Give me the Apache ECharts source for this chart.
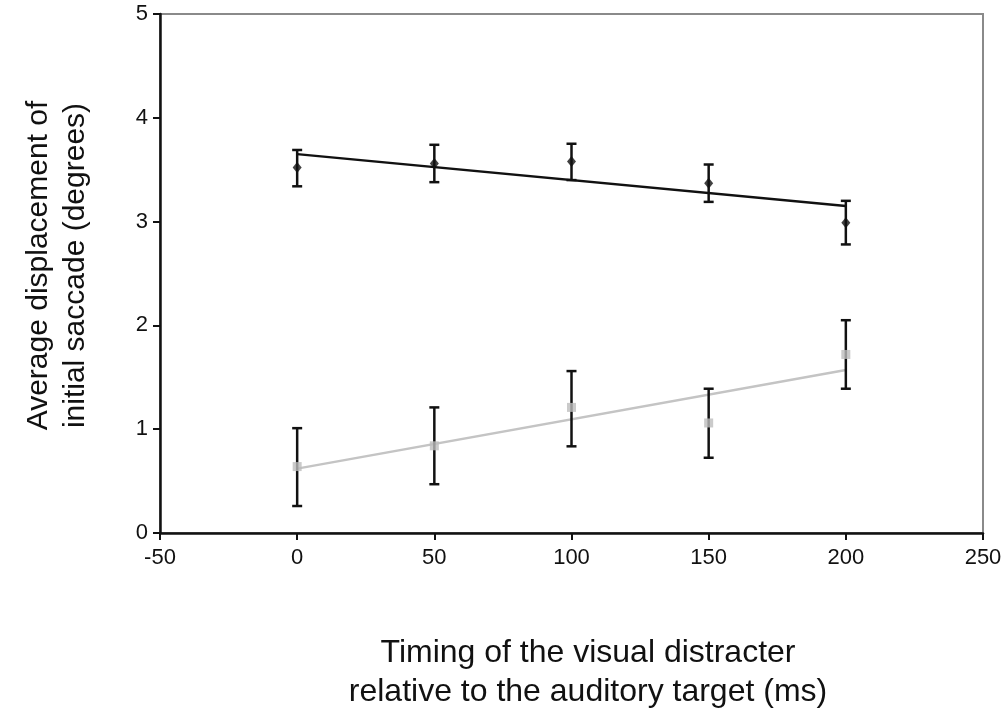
<!DOCTYPE html>
<html>
<head>
<meta charset="utf-8">
<script src="https://cdn.jsdelivr.net/npm/echarts@6/dist/echarts.min.js"></script>
<style>
  html, body { margin: 0; padding: 0; background: #fff; }
  #chart { width: 1008px; height: 717px; }
</style>
</head>
<body>
<div id="chart"></div>
<script>
// timing of the visual distracter (ms)
const timings = [0, 50, 100, 150, 200];

// upper (black) condition: mean, error bar low, error bar high
const upperMean = [3.52, 3.56, 3.58, 3.37, 2.99];
const upperLow = [3.34, 3.38, 3.40, 3.19, 2.78];
const upperHigh = [3.69, 3.74, 3.75, 3.55, 3.20];
const upperFit = [[0, 3.65], [200, 3.15]];

// lower (grey) condition
const lowerMean = [0.64, 0.84, 1.21, 1.06, 1.72];
const lowerLow = [0.26, 0.47, 0.835, 0.725, 1.39];
const lowerHigh = [1.01, 1.21, 1.56, 1.39, 2.05];
const lowerFit = [[0, 0.62], [200, 1.57]];

const xTicks = [-50, 0, 50, 100, 150, 200, 250];
const yTicks = [0, 1, 2, 3, 4, 5];

const font = "Liberation Sans, Arial, sans-serif";

function pairs(xs, ys) {
  return xs.map((x, i) => [x, ys[i]]);
}

function bars(xs, lo, hi) {
  return xs.map((x, i) => [x, lo[i], hi[i]]);
}

function renderErrorBar(params, api) {
  const x = api.value(0);
  const top = api.coord([x, api.value(2)]);
  const bot = api.coord([x, api.value(1)]);
  const cap = 5;
  const style = { stroke: "#111", lineWidth: 2.5 };
  return {
    type: "group",
    children: [
      { type: "line", shape: { x1: top[0], y1: top[1], x2: bot[0], y2: bot[1] }, style },
      { type: "line", shape: { x1: top[0] - cap, y1: top[1], x2: top[0] + cap, y2: top[1] }, style },
      { type: "line", shape: { x1: bot[0] - cap, y1: bot[1], x2: bot[0] + cap, y2: bot[1] }, style }
    ]
  };
}

const chart = echarts.init(document.getElementById("chart"));
chart.setOption({
  animation: false,
  grid: {
    left: 160,
    right: 25,
    top: 14,
    bottom: 182,
    show: true,
    borderColor: "#8a8a8a",
    borderWidth: 2,
    backgroundColor: "#fff"
  },
  xAxis: {
    type: "value",
    min: xTicks[0],
    max: xTicks[xTicks.length - 1],
    interval: 50,
    name: "Timing of the visual distracter\nrelative to the auditory target (ms)",
    nameLocation: "middle",
    nameGap: 101,
    nameTextStyle: {
      fontFamily: font,
      fontSize: 32,
      color: "#111",
      lineHeight: 39,
      padding: [0, 0, 0, 33]
    },
    axisLine: { onZero: false, lineStyle: { color: "#111", width: 2.5 } },
    axisTick: { show: true, length: 7, lineStyle: { color: "#111", width: 2 } },
    axisLabel: { fontFamily: font, fontSize: 22, color: "#111", margin: 14 },
    splitLine: { show: false }
  },
  yAxis: {
    type: "value",
    min: yTicks[0],
    max: yTicks[yTicks.length - 1],
    interval: 1,
    name: "Average displacement of\ninitial saccade (degrees)",
    nameLocation: "middle",
    nameGap: 66,
    nameTextStyle: {
      fontFamily: font,
      fontSize: 30,
      color: "#111",
      lineHeight: 37,
      padding: [0, 0, 0, 16]
    },
    axisLine: { show: true, onZero: false, lineStyle: { color: "#111", width: 2.5 } },
    axisTick: { show: true, length: 7, lineStyle: { color: "#111", width: 2 } },
    axisLabel: { fontFamily: font, fontSize: 22, color: "#111", margin: 12 },
    splitLine: { show: false }
  },
  series: [
    {
      type: "line",
      data: upperFit,
      symbol: "none",
      lineStyle: { color: "#111", width: 2.5 },
      z: 2
    },
    {
      type: "line",
      data: lowerFit,
      symbol: "none",
      lineStyle: { color: "#c4c4c4", width: 2.5 },
      z: 2
    },
    {
      type: "custom",
      data: bars(timings, upperLow, upperHigh),
      renderItem: renderErrorBar,
      z: 3
    },
    {
      type: "custom",
      data: bars(timings, lowerLow, lowerHigh),
      renderItem: renderErrorBar,
      z: 3
    },
    {
      type: "scatter",
      data: pairs(timings, upperMean),
      symbol: "diamond",
      symbolSize: [9, 11],
      itemStyle: { color: "#111" },
      z: 4
    },
    {
      type: "scatter",
      data: pairs(timings, lowerMean),
      symbol: "rect",
      symbolSize: 9,
      itemStyle: { color: "#bdbdbd" },
      z: 4
    }
  ]
});
</script>
</body>
</html>
